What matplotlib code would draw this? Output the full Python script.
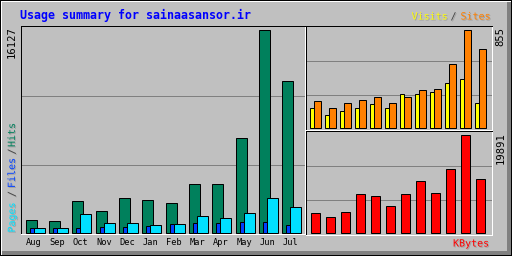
import numpy as np
import matplotlib.pyplot as plt
import matplotlib.patheffects as pe
from matplotlib.patches import Rectangle

# monthly usage numbers
months = ["Aug", "Sep", "Oct", "Nov", "Dec", "Jan", "Feb", "Mar", "Apr", "May", "Jun", "Jul"]
hits = [983, 904, 2490, 1697, 2727, 2569, 2331, 3838, 3838, 7485, 16127, 12004]
files = [349, 349, 349, 428, 428, 507, 666, 745, 745, 825, 825, 587]
pages = [349, 349, 1459, 745, 745, 587, 666, 1300, 1142, 1538, 2727, 2014]
visits = [174, 113, 140, 174, 209, 174, 288, 288, 314, 384, 419, 218]
sites = [227, 174, 218, 236, 270, 218, 270, 323, 332, 550, 855, 689]
kbytes = [4059, 3045, 4262, 7713, 7307, 5480, 7713, 10554, 7916, 12990, 19891, 10960]

bg = "#C0C0C0"
dark = "#808080"
c_hits, c_files, c_pages = "#00805C", "#0040FF", "#00E0FF"
c_visits, c_sites, c_kb = "#FFFF00", "#FF8000", "#FF0000"
lw = 0.72  # one pixel
mono = "DejaVu Sans Mono"

W, H = 512, 256
fig = plt.figure(figsize=(W / 100, H / 100), dpi=100, facecolor=bg)


def fx(x):
    return x / W


def fy(y):
    return 1 - y / H


def rect(x0, y0, x1, y1, color):
    # filled block of pixels, columns x0..x1, rows y0..y1
    fig.add_artist(Rectangle((fx(x0), fy(y1 + 1)), (x1 - x0 + 1) / W, (y1 - y0 + 1) / H,
                             transform=fig.transFigure, color=color, lw=0, zorder=-10))


def panel(l, t, r, b):
    ax = fig.add_axes([fx(l), fy(b), (r - l) / W, (b - t) / H])
    ax.set_facecolor(bg)
    ax.set_xticks([])
    ax.set_yticks([])
    for s in ["left", "top"]:
        ax.spines[s].set_color("black")
    for s in ["right", "bottom"]:
        ax.spines[s].set_color("white")
    for s in ax.spines.values():
        s.set_linewidth(lw)
        s.set_zorder(5)
    for f in [0.327, 0.663]:
        ax.plot([0, 1], [f, f], transform=ax.transAxes, color=dark, lw=lw, zorder=0.5)
    return ax


# outer frame
rect(0, 0, 511, 255, "black")
rect(1, 1, 510, 254, "white")
rect(2, 2, 510, 254, dark)
rect(2, 2, 506, 250, bg)

x = np.arange(len(months))

# main panel: hits / files / pages
slot = 23.36
ax = panel(20.5, 25.5, 304.5, 233.5)
ppu = 203 / max(hits)
ax.set_xlim(-5 / slot, 284 / slot - 5 / slot)
ax.set_ylim(-1 / ppu, 207 / ppu)
kw = dict(align="edge", edgecolor="black", linewidth=lw)
ax.bar(x, hits, width=11 / slot, color=c_hits, zorder=2, **kw)
ax.bar(x + 4 / slot, files, width=4 / slot, color=c_files, zorder=3, **kw)
ax.bar(x + 8 / slot, pages, width=11 / slot, color=c_pages, zorder=4, **kw)
for i, m in enumerate(months):
    ax.text(i + 8.5 / slot, -0.057, m, transform=ax.get_xaxis_transform(),
            ha="center", va="baseline", family=mono, size=6.2, color="black")

# visits / sites
slot2 = 15
ax2 = panel(305.5, 25.5, 491.5, 129.5)
ppu2 = 98 / max(sites)
ax2.set_xlim(-4 / slot2, 186 / slot2 - 4 / slot2)
ax2.set_ylim(-2 / ppu2, 102 / ppu2)
ax2.bar(x, visits, width=4 / slot2, color=c_visits, zorder=2, **kw)
ax2.bar(x + 4 / slot2, sites, width=7 / slot2, color=c_sites, zorder=3, **kw)

# kbytes
ax3 = panel(305.5, 130.5, 491.5, 234.5)
ppu3 = 98 / max(kbytes)
ax3.set_xlim(-5 / slot2, 186 / slot2 - 5 / slot2)
ax3.set_ylim(-2 / ppu3, 102 / ppu3)
ax3.bar(x, kbytes, width=9 / slot2, color=c_kb, zorder=2, **kw)

# texts
shadow = [pe.withSimplePatchShadow(offset=(0.72, -0.72), shadow_rgbFace="#A0A0A0", alpha=1)]
fig.text(fx(19.5), fy(15.5), "Usage summary for sainaasansor.ir", color="#0000FF",
         family=mono, weight="bold", size=8.4, ha="left", va="center")

small = dict(family=mono, size=7.2, path_effects=shadow)
fig.text(fx(411.5), fy(16.5), "Visits", color=c_visits, ha="left", va="center", **small)
fig.text(fx(453.5), fy(16.5), "/", color="#404040", ha="center", va="center", **small)
fig.text(fx(490.5), fy(16.5), "Sites", color=c_sites, ha="right", va="center", **small)

fig.text(fx(12), fy(217.5), "Pages", color=c_pages, rotation=90, ha="center", va="center", **small)
fig.text(fx(12), fy(194), "/", color="#404040", rotation=90, ha="center", va="center", **small)
fig.text(fx(12), fy(173), "Files", color=c_files, rotation=90, ha="center", va="center", **small)
fig.text(fx(12), fy(151.5), "/", color="#404040", rotation=90, ha="center", va="center", **small)
fig.text(fx(12), fy(135), "Hits", color=c_hits, rotation=90, ha="center", va="center", **small)

fig.text(fx(489), fy(243.5), "KBytes", color=c_kb, ha="right", va="center", **small)

num = dict(family=mono, size=7.6, color="black", rotation=90, ha="center", va="top")
fig.text(fx(12), fy(26.5), str(max(hits)), **num)
fig.text(fx(500.5), fy(26.5), str(max(sites)), **num)
fig.text(fx(500.5), fy(132.5), str(max(kbytes)), **num)

fig.savefig("out.png", dpi=100, facecolor=bg)
